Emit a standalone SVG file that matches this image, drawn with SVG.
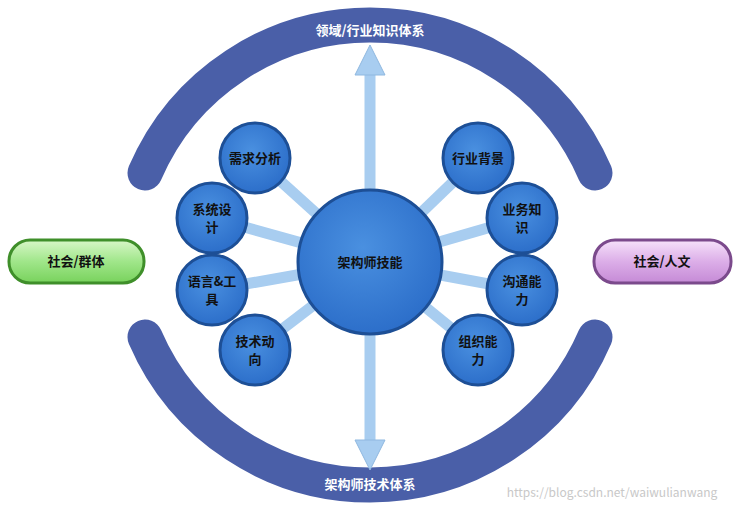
<svg xmlns="http://www.w3.org/2000/svg" width="741" height="510" viewBox="0 0 741 510">
<defs>
<radialGradient id="cg" cx="0.45" cy="0.4" r="0.65"><stop offset="0" stop-color="#4a90e0"/><stop offset="1" stop-color="#2a6cc8"/></radialGradient>
<linearGradient id="gg" x1="0" y1="0" x2="0" y2="1"><stop offset="0" stop-color="#d8f7c8"/><stop offset="0.5" stop-color="#a0e68a"/><stop offset="1" stop-color="#78d25c"/></linearGradient>
<linearGradient id="pg" x1="0" y1="0" x2="0" y2="1"><stop offset="0" stop-color="#f6e2fa"/><stop offset="0.5" stop-color="#dcaee8"/><stop offset="1" stop-color="#c58ad6"/></linearGradient>
</defs>
<style>
.arc{fill:none;stroke:#4a5fa8;stroke-width:35;stroke-linecap:round}
.spoke{stroke:#a8cdf0;stroke-width:11}
.node circle{fill:url(#cg);stroke:#1d4f96;stroke-width:3}
.ring{fill:none;stroke:#6f8fb8;stroke-width:2}
text{font-family:"Noto Sans CJK SC","Liberation Sans",sans-serif;font-weight:bold;text-anchor:middle}
.t{font-size:13px;fill:#111}
.w{font-size:13px;fill:#fff}
</style>
<rect width="741" height="510" fill="#fff"/>
<path class="arc" d="M145 173 A245 245 0 0 1 595 173"/>
<path class="arc" d="M145 337 A245 245 0 0 0 595 337"/>
<text class="w" x="370" y="35">领域/行业知识体系</text>
<text class="w" x="370" y="489">架构师技术体系</text>
<g id="connectors">
<line class="spoke" x1="370" y1="70" x2="370" y2="445"/>
<polygon points="370,45 355,75 385,75" fill="#a8cdf0" stroke="#8fb8e0"/>
<polygon points="370,470 355,440 385,440" fill="#a8cdf0" stroke="#8fb8e0"/>
<line class="spoke" x1="255" y1="158" x2="370" y2="262"/>
<line class="spoke" x1="212" y1="218" x2="370" y2="262"/>
<line class="spoke" x1="212" y1="290" x2="370" y2="262"/>
<line class="spoke" x1="255" y1="350" x2="370" y2="262"/>
<line class="spoke" x1="478" y1="158" x2="370" y2="262"/>
<line class="spoke" x1="522" y1="218" x2="370" y2="262"/>
<line class="spoke" x1="522" y1="290" x2="370" y2="262"/>
<line class="spoke" x1="478" y1="350" x2="370" y2="262"/>
</g>
<g id="center" class="node"><circle cx="370" cy="262" r="68" stroke-width="4"/><circle class="ring" cx="370" cy="262" r="72"/><text class="t" x="370" y="267">架构师技能</text></g>
<g id="n1" class="node"><circle cx="255" cy="158" r="32"/><circle class="ring" cx="255" cy="158" r="35"/><text class="t" x="255" y="163">需求分析</text></g>
<g id="n2" class="node"><circle cx="212" cy="218" r="32"/><circle class="ring" cx="212" cy="218" r="35"/><text class="t" x="212" y="214">系统设</text><text class="t" x="212" y="232">计</text></g>
<g id="n3" class="node"><circle cx="212" cy="290" r="32"/><circle class="ring" cx="212" cy="290" r="35"/><text class="t" x="212" y="286">语言&amp;工</text><text class="t" x="212" y="304">具</text></g>
<g id="n4" class="node"><circle cx="255" cy="350" r="32"/><circle class="ring" cx="255" cy="350" r="35"/><text class="t" x="255" y="346">技术动</text><text class="t" x="255" y="364">向</text></g>
<g id="n5" class="node"><circle cx="478" cy="158" r="32"/><circle class="ring" cx="478" cy="158" r="35"/><text class="t" x="478" y="163">行业背景</text></g>
<g id="n6" class="node"><circle cx="522" cy="218" r="32"/><circle class="ring" cx="522" cy="218" r="35"/><text class="t" x="522" y="214">业务知</text><text class="t" x="522" y="232">识</text></g>
<g id="n7" class="node"><circle cx="522" cy="290" r="32"/><circle class="ring" cx="522" cy="290" r="35"/><text class="t" x="522" y="286">沟通能</text><text class="t" x="522" y="304">力</text></g>
<g id="n8" class="node"><circle cx="478" cy="350" r="32"/><circle class="ring" cx="478" cy="350" r="35"/><text class="t" x="478" y="346">组织能</text><text class="t" x="478" y="364">力</text></g>
<g id="left"><rect x="9" y="240" width="135" height="43" rx="21" fill="url(#gg)" stroke="#3f8f2a" stroke-width="3"/><text class="t" x="76" y="266">社会/群体</text></g>
<g id="right"><rect x="594" y="240" width="137" height="43" rx="21" fill="url(#pg)" stroke="#7b4a8c" stroke-width="3"/><text class="t" x="662" y="266">社会/人文</text></g>
<text x="612" y="497" font-size="12" fill="#c8c8c8" style="font-weight:normal">https://blog.csdn.net/waiwulianwang</text>
</svg>
